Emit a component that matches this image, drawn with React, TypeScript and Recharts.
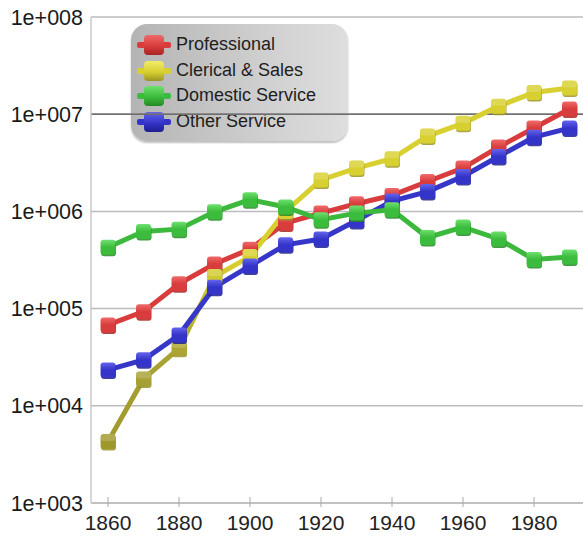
import React from 'react';
import { LineChart, Line, XAxis, YAxis, CartesianGrid, ReferenceLine, Legend } from 'recharts';

const years = [1860, 1870, 1880, 1890, 1900, 1910, 1920, 1930, 1940, 1950, 1960, 1970, 1980, 1990];
const professional = [68000, 93000, 180000, 288000, 409000, 760000, 960000, 1200000, 1460000, 2030000, 2790000, 4590000, 7200000, 11300000];
const clerical = [4280, 18900, 39000, 214000, 343000, 1000000, 2110000, 2790000, 3480000, 5950000, 8050000, 12100000, 16700000, 18600000];
const domestic = [427000, 620000, 657000, 990000, 1320000, 1110000, 820000, 960000, 1040000, 540000, 690000, 520000, 320000, 340000];
const other = [23400, 29700, 53600, 166000, 275000, 453000, 520000, 805000, 1280000, 1600000, 2290000, 3670000, 5800000, 7200000];
const yTicks = [1e3, 1e4, 1e5, 1e6, 1e7, 1e8];
const xTicks = [1860, 1880, 1900, 1920, 1940, 1960, 1980];

const series = [
  { key: 'professional', name: 'Professional', color: '#d93c3c', light: '#f06a6a', dark: '#a82424' },
  { key: 'clerical', name: 'Clerical & Sales', color: '#d8d030', light: '#f2ec6a', dark: '#9a9426' },
  { key: 'domestic', name: 'Domestic Service', color: '#3cbc3c', light: '#6ee06e', dark: '#238a23' },
  { key: 'other', name: 'Other Service', color: '#3434c8', light: '#6464ee', dark: '#1e1e90' },
];

const data = years.map((year, i) => ({
  year,
  professional: professional[i],
  clerical: clerical[i],
  domestic: domestic[i],
  other: other[i],
}));

const FONT = '"Liberation Sans", Arial, sans-serif';

const fmt = (v: number) => '1e+' + String(Math.round(Math.log10(v))).padStart(3, '0');

const makeDot = (key: string) => (props: any) => {
  const { cx, cy, index } = props;
  if (cx == null || cy == null) return <g key={index} />;
  const bodyFill = key === 'clerical' ? 'url(#clericalLine)' : `url(#body-${key})`;
  return (
    <g key={index}>
      <rect x={cx - 7} y={cy - 6} width={15} height={15} rx={3} fill={`url(#shade-${key})`} opacity={0.85} />
      <rect x={cx - 7.5} y={cy - 7.5} width={15} height={15} rx={3} fill={bodyFill} />
      {key === 'clerical' ? (
        <rect x={cx - 7.5} y={cy - 7.5} width={15} height={7} rx={3} fill="#ffffff" opacity={0.18} />
      ) : null}
    </g>
  );
};

const XTick = (props: any) => {
  const { x, y, payload } = props;
  return (
    <g>
      <line x1={x} x2={x} y1={y - 6} y2={y + 4} stroke="#aaaaaa" strokeWidth={1} />
      <text x={x} y={y + 27} textAnchor="middle" fontSize={21} fill="#222" fontFamily={FONT}>
        {payload.value}
      </text>
    </g>
  );
};

const LegendBox = () => (
  <div
    style={{
      width: 217,
      height: 117,
      borderRadius: 16,
      background: 'linear-gradient(to right, #b4b4b4 0%, #cfcfcf 60%, #dedede 100%)',
      boxShadow: '0 2px 2px rgba(0,0,0,0.25)',
      boxSizing: 'border-box',
      paddingTop: 8,
      fontFamily: FONT,
    }}
  >
    {series.map((s) => (
      <div key={s.key} style={{ height: 25.5, position: 'relative' }}>
        <div style={{ position: 'absolute', left: 6, top: 10, width: 34, height: 6, background: s.color, borderRadius: 2 }} />
        <div
          style={{
            position: 'absolute',
            left: 13,
            top: 3,
            width: 20,
            height: 20,
            borderRadius: 4,
            background: `linear-gradient(to bottom, ${s.light}, ${s.color} 55%, ${s.dark})`,
          }}
        />
        <span style={{ position: 'absolute', left: 45, top: 2, fontSize: 18, color: '#1e1e1e', whiteSpace: 'nowrap' }}>{s.name}</span>
      </div>
    ))}
  </div>
);

export default function App() {
  return (
    <div style={{ position: 'relative', width: 583, height: 537 }}>
      <style>{`body{margin:0;overflow:hidden;background:#fff}`}</style>
      <LineChart width={583} height={537} data={data} margin={{ top: 17, right: 0, bottom: 0, left: 0 }}>
        <defs>
          {series.map((s) => (
            <linearGradient key={s.key} id={`body-${s.key}`} x1="0" y1="0" x2="0" y2="1">
              <stop offset="0%" stopColor={s.light} />
              <stop offset="50%" stopColor={s.color} />
              <stop offset="100%" stopColor={s.color} />
            </linearGradient>
          ))}
          {series.map((s) => (
            <linearGradient key={s.key} id={`shade-${s.key}`} x1="0" y1="0" x2="0" y2="1">
              <stop offset="0%" stopColor={s.dark} />
              <stop offset="100%" stopColor={s.dark} />
            </linearGradient>
          ))}
          <linearGradient id="clericalLine" gradientUnits="userSpaceOnUse" x1="0" y1="450" x2="0" y2="260">
            <stop offset="0%" stopColor="#9e982c" />
            <stop offset="50%" stopColor="#aaa334" />
            <stop offset="100%" stopColor="#d8d030" />
          </linearGradient>
        </defs>
        <CartesianGrid horizontal vertical={false} stroke="#bcbcbc" strokeWidth={1.5} />
        <XAxis
          dataKey="year"
          type="number"
          domain={[1855.2, 1993.8]}
          ticks={xTicks}
          height={34}
          tickSize={0}
          tickMargin={0}
          tickLine={false}
          axisLine={{ stroke: '#bcbcbc', strokeWidth: 1.5 }}
          tick={<XTick />}
          allowDataOverflow
        />
        <YAxis
          scale="log"
          domain={[1e3, 1e8]}
          ticks={yTicks}
          tickFormatter={fmt}
          width={91}
          tickLine={false}
          tickMargin={2}
          axisLine={{ stroke: '#c8c8c8', strokeWidth: 1.5 }}
          tick={{ fontSize: 21.5, fill: '#1a1a1a', fontFamily: FONT }}
          allowDataOverflow
        />
        <ReferenceLine y={1e7} stroke="#555555" strokeWidth={1.3} />
        <Legend
          layout="vertical"
          align="center"
          verticalAlign="middle"
          wrapperStyle={{ position: 'absolute', left: 131, top: 24, width: 217, height: 117, zIndex: -1 }}
          content={() => <LegendBox />}
        />
        <Line
          dataKey="professional"
          name="Professional"
          stroke="#d83c3c"
          strokeWidth={5}
          dot={makeDot('professional')}
          activeDot={false}
          isAnimationActive={false}
        />
        <Line
          dataKey="clerical"
          name="Clerical & Sales"
          stroke="url(#clericalLine)"
          strokeWidth={5}
          dot={makeDot('clerical')}
          activeDot={false}
          isAnimationActive={false}
        />
        <Line
          dataKey="other"
          name="Other Service"
          stroke="#3636c8"
          strokeWidth={5}
          dot={makeDot('other')}
          activeDot={false}
          isAnimationActive={false}
        />
        <Line
          dataKey="domestic"
          name="Domestic Service"
          stroke="#3cb83c"
          strokeWidth={5}
          dot={makeDot('domestic')}
          activeDot={false}
          isAnimationActive={false}
        />
      </LineChart>
    </div>
  );
}
